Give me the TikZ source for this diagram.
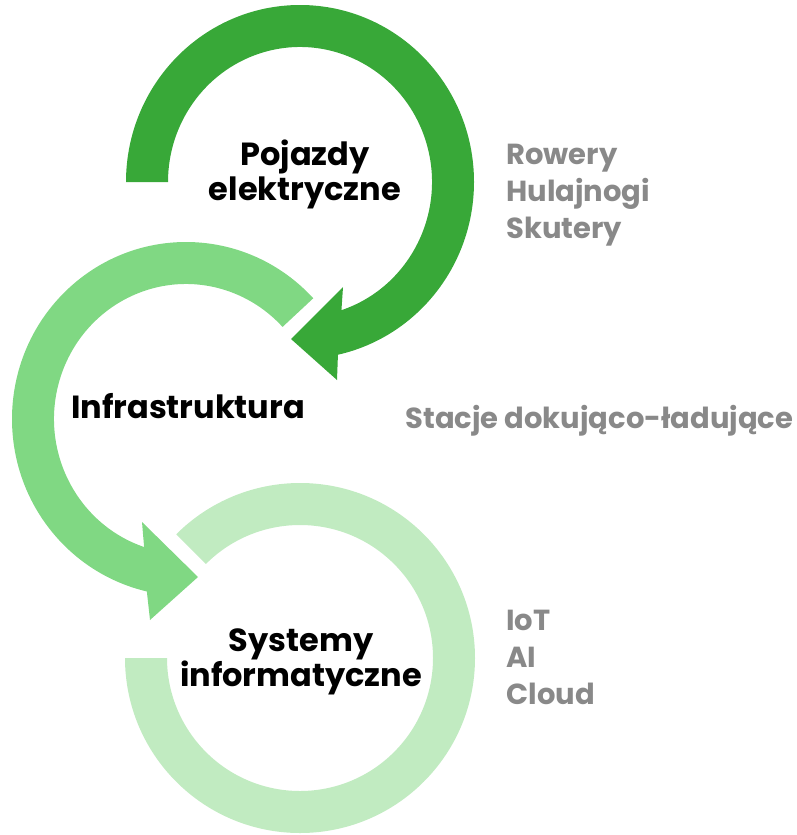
\documentclass[tikz,border=0pt]{standalone}
\usepackage{fontspec}
\setmainfont{Poppins}
\usetikzlibrary{positioning}
\definecolor{darkgreen}{HTML}{38A838}
\definecolor{midgreen}{HTML}{80D883}
\definecolor{palegreen}{HTML}{C1EBC1}
\definecolor{listgray}{HTML}{898989}

\begin{document}
\begin{tikzpicture}[x=0.5pt,y=0.5pt,
  title/.style={font=\bfseries\fontsize{16}{17.5}\selectfont,align=center,inner sep=0pt},
  items/.style={font=\bfseries\fontsize{14.5}{18.5}\selectfont,text=listgray,align=left,inner sep=0pt}]
\useasboundingbox (0,0) rectangle (797,-835);

% first ring with arrow
\begin{scope}[shift={(300,-182)}]
\fill[darkgreen] (180:174 and 177) arc[start angle=180,end angle=-77.4,x radius=174,y radius=177]
  -- (37,-198) -- (-9,-157) -- (43,-105)
  -- (-71.7:132 and 135) arc[start angle=-71.7,end angle=180,x radius=132,y radius=135] -- cycle;
\end{scope}

% second ring with arrow
\begin{scope}[shift={(186,-419)}]
\fill[midgreen] (43:174 and 177) arc[start angle=43,end angle=257,x radius=174,y radius=177]
  -- (-36,-201) -- (12,-158) -- (-44,-103)
  -- (251.5:132 and 135) arc[start angle=251.5,end angle=43,x radius=132,y radius=135] -- cycle;
\end{scope}

% third ring
\begin{scope}[shift={(300,-658)}]
\fill[palegreen] (180:175) arc (180:495:175) -- (495:133) arc (495:180:133) -- cycle;
\end{scope}

\node[title] (pojazdy) at (305,-174) {Pojazdy\\elektryczne};
\node[title] (infra) at (188,-406) {Infrastruktura};
\node[title] (systemy) at (301,-662) {Systemy\\informatyczne};

\node[items,anchor=north west] (pojazdyList) at (506,-144) {Rowery\\Hulajnogi\\Skutery};
\node[items,anchor=base west] (infraList) at (405,-428) {Stacje dokująco-ładujące};
\node[items,anchor=north west] (systemyList) at (506,-610) {IoT\\AI\\Cloud};
\end{tikzpicture}
\end{document}
